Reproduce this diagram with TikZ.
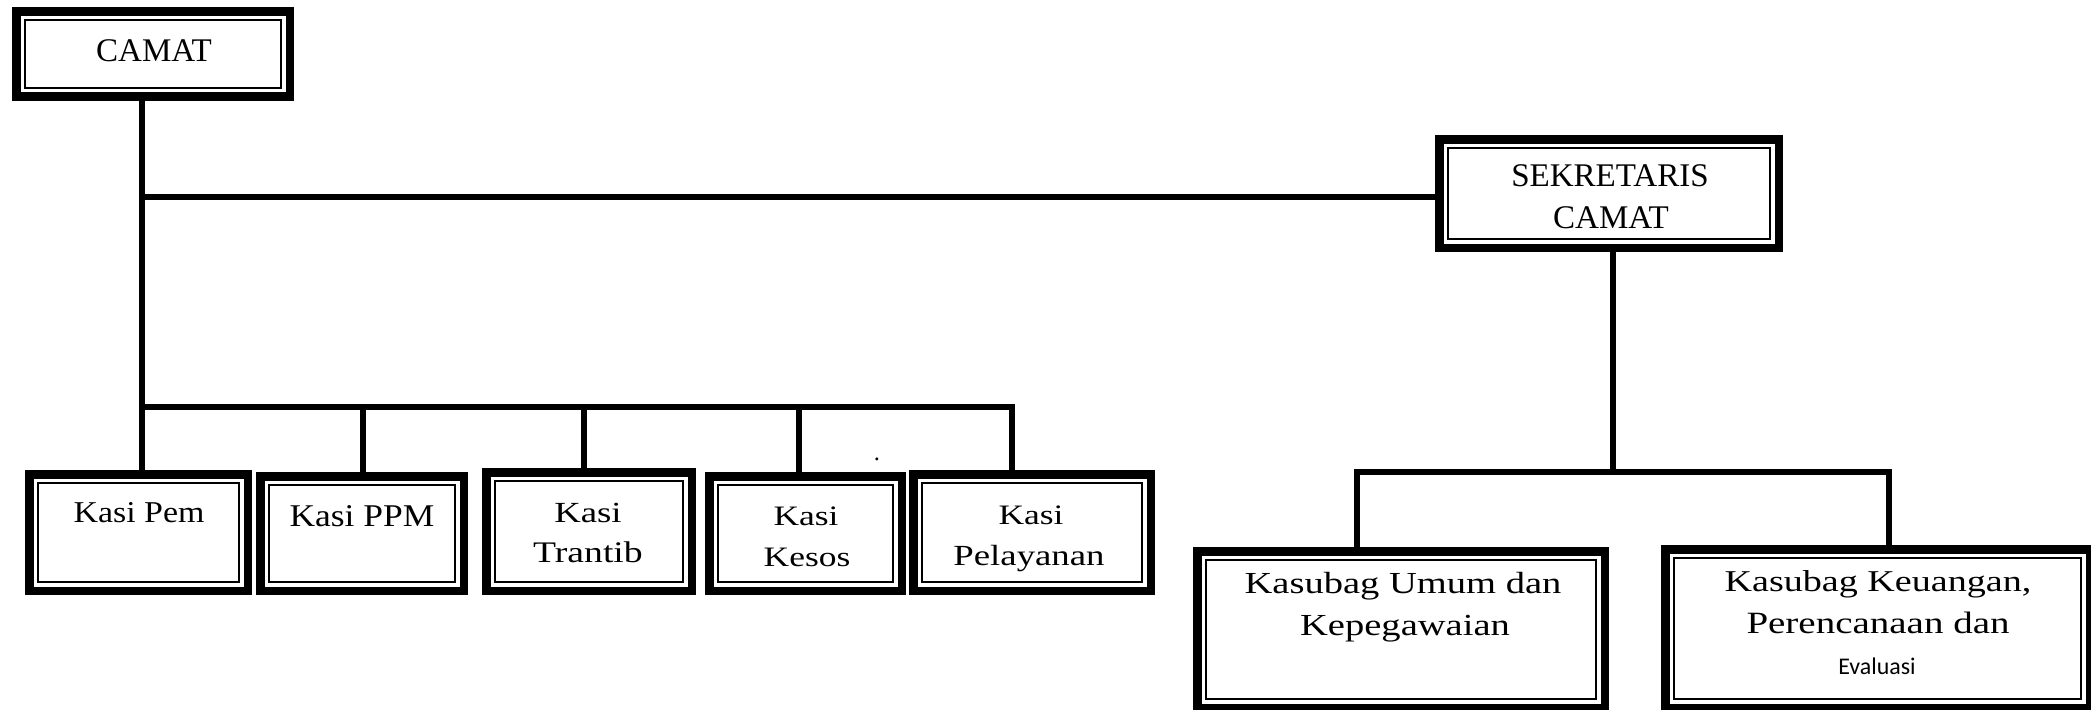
\documentclass[tikz,border=0pt]{standalone}
\usepackage{fontspec}
\setmainfont{Liberation Serif}
\newfontfamily\bkfont[FakeStretch=1.26]{Liberation Serif}
\newfontfamily\csfont[FakeStretch=1.12]{Liberation Serif}
\newfontfamily\calfont{Carlito}
\newcommand\obx[5]{\node[obox, minimum width={(#4-#2-8.5)*0.01cm}, minimum height={(#5-#3-8.5)*0.01cm}] (#1) at ({(#2+#4)/2},{(#3+#5)/2}) {};
  \draw[ibox] ([xshift=0.085cm,yshift=-0.085cm]#1.north west) rectangle ([xshift=-0.085cm,yshift=0.085cm]#1.south east);}
\begin{document}
\begin{tikzpicture}[x=0.01cm,y=-0.01cm,
  conn/.style={line width=0.065cm, line join=miter, line cap=rect},
  obox/.style={draw, line width=0.085cm, outer sep=0pt, inner sep=0pt},
  ibox/.style={line width=0.02cm},
  lbl/.style={anchor=base, inner sep=0pt, outer sep=0pt},
  capf/.style={font=\fontsize{9.4}{11}\selectfont},
]
\useasboundingbox (0,0) rectangle (2091,709);
\fill[white] (0,0) rectangle (2091,709);
\clip (0,0) rectangle (2091,709);

% boxes
\obx{camat}{12}{7}{294}{101}
\obx{sek}{1435}{135}{1783}{252}
\obx{pem}{25}{470}{252}{595}
\obx{ppm}{256}{472}{468}{595}
\obx{trantib}{482}{468}{696}{595}
\obx{kesos}{705}{472}{906}{595}
\obx{pel}{909}{470}{1155}{595}
\obx{umum}{1193}{547}{1609}{712}
\obx{keu}{1661}{545}{2094}{712}

% junctions
\coordinate (jh) at (142,197);
\coordinate (b1) at (142,407);
\coordinate (b2) at (363,407);
\coordinate (b3) at (584,407);
\coordinate (b4) at (799,407);
\coordinate (b5) at (1012,407);
\coordinate (k0) at (1613,472);
\coordinate (k1) at (1357,472);
\coordinate (k2) at (1889,472);

% connectors
\draw[conn] (camat.south -| b1) -- (pem.north -| b1);
\draw[conn] (jh) -- (sek.west |- jh);
\draw[conn] (b1) -- (b5) -- (pel.north -| b5);
\foreach \b/\n in {b2/ppm,b3/trantib,b4/kesos}
  \draw[conn] (\b) -- (\n.north -| \b);
\draw[conn] (sek.south -| k0) -- (k0);
\draw[conn] (umum.north -| k1) -- (k1) -- (k2) -- (keu.north -| k2);

% labels
\node[lbl,capf] (tcamat) at (154,61) {CAMAT};
\node[lbl,capf] (tsek1) at (1610,186) {SEKRETARIS};
\node[lbl,capf] (tsek2) at (1611,228) {CAMAT};
\node[lbl,font=\csfont\fontsize{8.6}{9}\selectfont] (tpem) at (139,522) {Kasi Pem};
\node[lbl,font=\csfont\fontsize{9.0}{9}\selectfont] (tppm) at (362,526) {Kasi PPM};
\node[lbl,font=\bkfont\fontsize{8.3}{9}\selectfont] (ttr1) at (588,522) {Kasi};
\node[lbl,font=\bkfont\fontsize{8.5}{9}\selectfont] (ttr2) at (588,562) {Trantib};
\node[lbl,font=\bkfont\fontsize{8.0}{9}\selectfont] (tke1) at (806,525) {Kasi};
\node[lbl,font=\bkfont\fontsize{8.0}{9}\selectfont] (tke2) at (807,566) {Kesos};
\node[lbl,font=\bkfont\fontsize{8.0}{9}\selectfont] (tpl1) at (1031,524) {Kasi};
\node[lbl,font=\bkfont\fontsize{8.3}{9}\selectfont] (tpl2) at (1029,565) {Pelayanan};
\node[lbl,font=\bkfont\fontsize{8.7}{10}\selectfont] (tum1) at (1403,593) {Kasubag Umum dan};
\node[lbl,font=\bkfont\fontsize{8.7}{10}\selectfont] (tum2) at (1405,635) {Kepegawaian};
\node[lbl,font=\bkfont\fontsize{8.6}{10}\selectfont] (tku1) at (1878,591) {Kasubag Keuangan,};
\node[lbl,font=\bkfont\fontsize{8.8}{10}\selectfont] (tku2) at (1878,633) {Perencanaan dan};
\node[lbl,font=\calfont\fontsize{6.8}{8}\selectfont] (tku3) at (1877,674) {Evaluasi};
\node[lbl,font=\fontsize{7}{8}\selectfont] (dot) at (877,460) {.};
\end{tikzpicture}
\end{document}
